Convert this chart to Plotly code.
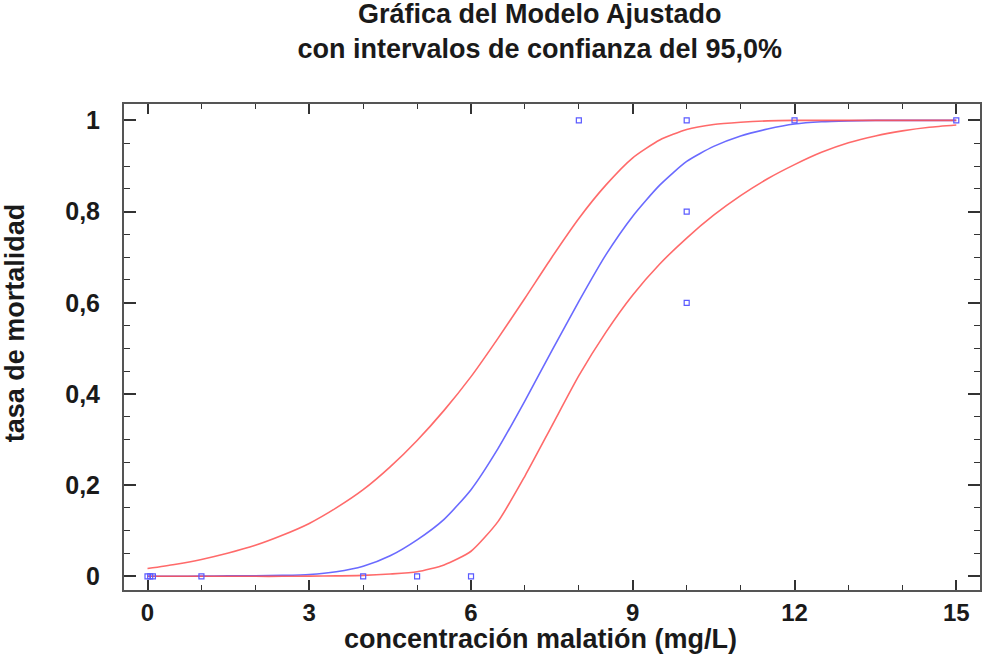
import plotly.graph_objects as go

# observed data points
obs_x = [0, 0.05, 0.1, 1, 4, 5, 6, 8, 10, 10, 10, 12, 15]
obs_y = [0, 0, 0, 0, 0, 0, 0, 1, 1, 0.8, 0.6, 1, 1]

curve_x = [0, 0.5, 1, 1.5, 2, 2.5, 3, 3.5, 4, 4.5, 5, 5.5, 6, 6.5, 7, 7.5, 8, 8.5, 9, 9.5,
           10, 10.5, 11, 11.5, 12, 12.5, 13, 13.5, 14, 14.5, 15]

# fitted model
fit_y = [0.0, 0.0, 0.0005, 0.001, 0.001, 0.002, 0.004, 0.01, 0.022, 0.045, 0.08, 0.125, 0.19,
         0.28, 0.385, 0.495, 0.603, 0.705, 0.79, 0.858, 0.91, 0.943, 0.966, 0.981, 0.992,
         0.997, 0.999, 1.0, 1.0, 1.0, 1.0]

# upper 95% confidence limit
up_y = [0.017, 0.026, 0.037, 0.051, 0.068, 0.09, 0.116, 0.15, 0.19, 0.24, 0.298, 0.364, 0.438,
        0.522, 0.61, 0.70, 0.785, 0.858, 0.918, 0.957, 0.98, 0.991, 0.996, 0.999, 1.0,
        1.0, 1.0, 1.0, 1.0, 1.0, 1.0]

# lower 95% confidence limit
lo_y = [0.0, 0.0, 0.0, 0.0, 0.0, 0.0, 0.0005, 0.001, 0.002, 0.005, 0.01, 0.025, 0.055,
        0.12, 0.22, 0.33, 0.44, 0.535, 0.617, 0.685, 0.742, 0.792, 0.835, 0.872, 0.903,
        0.93, 0.951, 0.966, 0.977, 0.985, 0.99]

x_ticks = [0, 3, 6, 9, 12, 15]
y_ticks = [0, 0.2, 0.4, 0.6, 0.8, 1]
y_tick_text = ["0", "0,2", "0,4", "0,6", "0,8", "1"]

title_text = "Gráfica del Modelo Ajustado<br>con intervalos de confianza del 95,0%"
x_title = "concentración malatión (mg/L)"
y_title = "tasa de mortalidad"

RED = "rgba(255,80,80,0.85)"
BLUE = "rgba(80,80,255,0.85)"

fig = go.Figure()
fig.add_trace(go.Scatter(x=curve_x, y=fit_y, mode="lines",
                         line=dict(color=BLUE, width=1.6, shape="spline", smoothing=0.6),
                         showlegend=False))
fig.add_trace(go.Scatter(x=curve_x, y=up_y, mode="lines",
                         line=dict(color=RED, width=1.6, shape="spline", smoothing=0.6),
                         showlegend=False))
fig.add_trace(go.Scatter(x=curve_x, y=lo_y, mode="lines",
                         line=dict(color=RED, width=1.6, shape="spline", smoothing=0.6),
                         showlegend=False))
fig.add_trace(go.Scatter(x=obs_x, y=obs_y, mode="markers",
                         marker=dict(symbol="square-open", size=5, color="rgb(90,90,255)",
                                     line=dict(width=1.2, color="rgb(90,90,255)")),
                         showlegend=False))

FONT = "Liberation Sans, Arial, sans-serif"
TXT = "#1a1a1a"
fig.update_layout(
    width=985, height=664,
    margin=dict(l=124, r=5, t=104, b=74),
    paper_bgcolor="white", plot_bgcolor="white",
    font=dict(family=FONT, color=TXT),
    title=dict(text=title_text,
               x=0.548, xanchor="center", xref="container",
               y=0.966, yanchor="top", yref="container",
               font=dict(size=27, weight="bold", family=FONT, color=TXT), automargin=False),
    annotations=[
        dict(text=x_title, xref="paper", yref="paper", x=0.487, y=-0.101,
             xanchor="center", yanchor="middle", showarrow=False,
             font=dict(size=27, weight="bold", family=FONT, color=TXT)),
        dict(text=y_title, xref="paper", yref="paper", x=-0.1273, y=0.549, textangle=-90,
             xanchor="center", yanchor="middle", showarrow=False,
             font=dict(size=27, weight="bold", family=FONT, color=TXT)),
    ],
)
fig.update_xaxes(
    range=[-0.436, 15.44], tickmode="array", tickvals=x_ticks, automargin=False,
    ticks="inside", ticklen=10, tickwidth=1.5, tickcolor="#333333",
    minor=dict(dtick=1, tick0=0, ticks="inside", ticklen=5, tickwidth=1.2, tickcolor="#333333"),
    showline=True, linecolor="#555555", linewidth=2, mirror="allticks",
    showgrid=False, zeroline=False,
    tickfont=dict(size=24, weight="bold", family=FONT, color=TXT),
    ticklabelstandoff=0,
)
fig.update_yaxes(
    range=[-0.030, 1.036], tickmode="array", tickvals=y_ticks, ticktext=y_tick_text, automargin=False,
    ticks="inside", ticklen=12, tickwidth=1.5, tickcolor="#333333",
    minor=dict(dtick=0.05, tick0=0, ticks="inside", ticklen=6, tickwidth=1.2, tickcolor="#333333"),
    showline=True, linecolor="#555555", linewidth=2, mirror="allticks",
    showgrid=False, zeroline=False,
    tickfont=dict(size=25, weight="bold", family=FONT, color=TXT),
    ticklabelstandoff=17,
)

fig.write_html("out.html", config={"displayModeBar": False},
               post_script="document.body.style.margin='0px';")
